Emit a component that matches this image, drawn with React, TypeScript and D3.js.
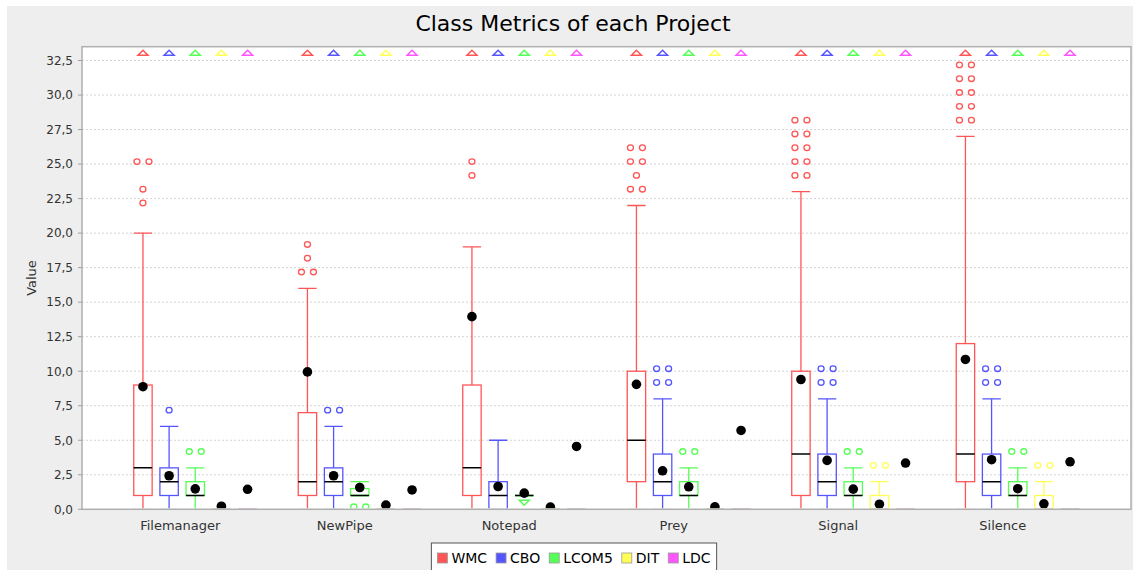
import React from 'react';
import * as d3 from 'd3';

// ---------- data ----------
const categories = ['Filemanager', 'NewPipe', 'Notepad', 'Prey', 'Signal', 'Silence'];
const seriesNames = ['WMC', 'CBO', 'LCOM5', 'DIT', 'LDC'];
const seriesColors = ['#FF5555', '#5555FF', '#55FF55', '#FFFF55', '#FF55FF'];
const yTickValues = [0, 2.5, 5, 7.5, 10, 12.5, 15, 17.5, 20, 22.5, 25, 27.5, 30, 32.5];

type Stat = { lo: number; q1: number; med: number; q3: number; hi: number; mean: number; out: number[]; farHigh: boolean; farLow: boolean };

const wmcStats: Stat[] = [
  { lo: 0, q1: 1, med: 3, q3: 9, hi: 20, mean: 8.88, out: [25, 25, 23, 22], farHigh: true, farLow: false },
  { lo: 0, q1: 1, med: 2, q3: 7, hi: 16, mean: 9.95, out: [19, 18, 17, 17], farHigh: true, farLow: false },
  { lo: 0, q1: 1, med: 3, q3: 9, hi: 19, mean: 13.95, out: [25, 24], farHigh: true, farLow: false },
  { lo: 0, q1: 2, med: 5, q3: 10, hi: 22, mean: 9.05, out: [26, 26, 25, 25, 24, 23, 23], farHigh: true, farLow: false },
  { lo: 0, q1: 1, med: 4, q3: 10, hi: 23, mean: 9.4, out: [28, 28, 27, 27, 26, 26, 25, 25, 24, 24], farHigh: true, farLow: false },
  { lo: 0, q1: 2, med: 4, q3: 12, hi: 27, mean: 10.85, out: [32, 32, 31, 31, 30, 30, 29, 29, 28, 28], farHigh: true, farLow: false },
];
const cboStats: Stat[] = [
  { lo: 0, q1: 1, med: 2, q3: 3, hi: 6, mean: 2.43, out: [7], farHigh: true, farLow: false },
  { lo: 0, q1: 1, med: 2, q3: 3, hi: 6, mean: 2.43, out: [7, 7], farHigh: true, farLow: false },
  { lo: 0, q1: 0, med: 1, q3: 2, hi: 5, mean: 1.65, out: [], farHigh: true, farLow: false },
  { lo: 0, q1: 1, med: 2, q3: 4, hi: 8, mean: 2.79, out: [10, 10, 9, 9], farHigh: true, farLow: false },
  { lo: 0, q1: 1, med: 2, q3: 4, hi: 8, mean: 3.54, out: [10, 10, 9, 9], farHigh: true, farLow: false },
  { lo: 0, q1: 1, med: 2, q3: 4, hi: 8, mean: 3.59, out: [10, 10, 9, 9], farHigh: true, farLow: false },
];
const lcom5Stats: Stat[] = [
  { lo: 0, q1: 1, med: 1, q3: 2, hi: 3, mean: 1.48, out: [4, 4], farHigh: true, farLow: false },
  { lo: 1, q1: 1, med: 1, q3: 1.5, hi: 2, mean: 1.58, out: [0, 0], farHigh: true, farLow: false },
  { lo: 1, q1: 1, med: 1, q3: 1, hi: 1, mean: 1.17, out: [], farHigh: true, farLow: true },
  { lo: 0, q1: 1, med: 1, q3: 2, hi: 3, mean: 1.63, out: [4, 4], farHigh: true, farLow: false },
  { lo: 0, q1: 1, med: 1, q3: 2, hi: 3, mean: 1.46, out: [4, 4], farHigh: true, farLow: false },
  { lo: 0, q1: 1, med: 1, q3: 2, hi: 3, mean: 1.49, out: [4, 4], farHigh: true, farLow: false },
];
const ditStats: Stat[] = [
  { lo: 0, q1: 0, med: 0, q3: 0, hi: 0, mean: 0.22, out: [], farHigh: true, farLow: false },
  { lo: 0, q1: 0, med: 0, q3: 0, hi: 0, mean: 0.3, out: [], farHigh: true, farLow: false },
  { lo: 0, q1: 0, med: 0, q3: 0, hi: 0, mean: 0.16, out: [], farHigh: true, farLow: false },
  { lo: 0, q1: 0, med: 0, q3: 0, hi: 0, mean: 0.18, out: [], farHigh: true, farLow: false },
  { lo: 0, q1: 0, med: 0, q3: 1, hi: 2, mean: 0.37, out: [3, 3], farHigh: true, farLow: false },
  { lo: 0, q1: 0, med: 0, q3: 1, hi: 2, mean: 0.4, out: [3, 3], farHigh: true, farLow: false },
];
const ldcStats: Stat[] = [
  { lo: 0, q1: 0, med: 0, q3: 0, hi: 0, mean: 1.45, out: [], farHigh: true, farLow: false },
  { lo: 0, q1: 0, med: 0, q3: 0, hi: 0, mean: 1.4, out: [], farHigh: true, farLow: false },
  { lo: 0, q1: 0, med: 0, q3: 0, hi: 0, mean: 4.55, out: [], farHigh: true, farLow: false },
  { lo: 0, q1: 0, med: 0, q3: 0, hi: 0, mean: 5.71, out: [], farHigh: true, farLow: false },
  { lo: 0, q1: 0, med: 0, q3: 0, hi: 0, mean: 3.35, out: [], farHigh: true, farLow: false },
  { lo: 0, q1: 0, med: 0, q3: 0, hi: 0, mean: 3.44, out: [], farHigh: true, farLow: false },
];
const allStats = [wmcStats, cboStats, lcom5Stats, ditStats, ldcStats];

// ---------- layout ----------
const W = 1133;
const H = 570;
const FONT = 'DejaVu Sans, sans-serif';
const plot = { left: 82, right: 1131, top: 46.7, bottom: 509.3 };

const measureText = (t: string, font: string) => {
  const ctx = document.createElement('canvas').getContext('2d');
  if (!ctx) return t.length * 8;
  ctx.font = font;
  return ctx.measureText(t).width;
};

export default function App() {
  const y = d3.scaleLinear().domain([0, 33.5]).range([plot.bottom, plot.top]);
  const x = d3.scaleBand<string>().domain(categories).range([plot.left, plot.right]).paddingInner(0.2).paddingOuter(0.2885);
  const xs = d3.scaleBand<string>().domain(seriesNames).range([0, x.bandwidth()]).paddingInner(0.2964).paddingOuter(0.164);
  const bw = xs.bandwidth();
  const fmt = (v: number) => d3.format('.1f')(v).replace('.', ',');

  // legend layout
  const legFont = `14px ${FONT}`;
  const sw = 10, swGap = 4, itemGap = 9, pad = 6;
  const widths = seriesNames.map((s) => measureText(s, legFont));
  const legW = pad * 2 + widths.reduce((a, b) => a + b, 0) + seriesNames.length * (sw + swGap) + (seriesNames.length - 1) * itemGap;
  const legX = 574 - legW / 2;
  let cursor = legX + pad;
  const legItems = seriesNames.map((s, i) => {
    const item = { s, i, x: cursor };
    cursor += sw + swGap + widths[i] + itemGap;
    return item;
  });

  return (
    <svg width={W} height={H} style={{ position: 'absolute', left: 0, top: 0 }} fontFamily={FONT}>
      <defs>
        <clipPath id="plotClip">
          <rect x={plot.left} y={plot.top} width={plot.right - plot.left} height={plot.bottom - plot.top - 1} />
        </clipPath>
      </defs>
      <rect x={0} y={0} width={W} height={H} fill="#ffffff" />
      <rect x={7} y={6} width={W - 7} height={H - 6} fill="#EEEEEE" />
      <text x={573} y={31} textAnchor="middle" fontSize={22} fill="#000">Class Metrics of each Project</text>

      {/* plot background */}
      <rect x={plot.left} y={plot.top} width={plot.right - plot.left} height={plot.bottom - plot.top} fill="#ffffff" />

      {/* grid */}
      {yTickValues.map((v) => (
        <line key={'g' + v} x1={plot.left} x2={plot.right} y1={y(v)} y2={y(v)} stroke="#d4d4d4" strokeWidth={1} strokeDasharray="2,2" />
      ))}

      {/* boxes */}
      <g clipPath="url(#plotClip)">
        {allStats.map((stats, si) =>
          stats.map((d, ci) => {
            const color = seriesColors[si];
            const x0 = (x(categories[ci]) as number) + (xs(seriesNames[si]) as number);
            const cx = x0 + bw / 2;
            const groups = d3.rollups(d.out, (v) => v.length, (v) => v);
            const sw2 = 1.3;
            return (
              <g key={si + '-' + ci}>
                <line x1={cx} x2={cx} y1={y(d.q3)} y2={y(d.hi)} stroke={color} strokeWidth={sw2} />
                <line x1={cx} x2={cx} y1={y(d.q1)} y2={y(d.lo)} stroke={color} strokeWidth={sw2} />
                <line x1={x0} x2={x0 + bw} y1={y(d.hi)} y2={y(d.hi)} stroke={color} strokeWidth={sw2} />
                <line x1={x0} x2={x0 + bw} y1={y(d.lo)} y2={y(d.lo)} stroke={color} strokeWidth={sw2} />
                <rect x={x0} y={y(d.q3)} width={bw} height={y(d.q1) - y(d.q3)} fill="none" stroke={color} strokeWidth={sw2} />
                <line x1={x0} x2={x0 + bw} y1={y(d.med)} y2={y(d.med)} stroke="#000" strokeWidth={1.5} />
                {groups.map(([v, n]) =>
                  n > 1 ? (
                    <g key={'o' + v}>
                      <ellipse cx={cx - 6} cy={y(v) - 2.5} rx={3} ry={2.8} fill="none" stroke={color} strokeWidth={1.3} />
                      <ellipse cx={cx + 6} cy={y(v) - 2.5} rx={3} ry={2.8} fill="none" stroke={color} strokeWidth={1.3} />
                    </g>
                  ) : (
                    <ellipse key={'o' + v} cx={cx} cy={y(v) - 2.5} rx={3} ry={2.8} fill="none" stroke={color} strokeWidth={1.3} />
                  )
                )}
                {d.farHigh && (
                  <polygon points={`${cx},${plot.top + 3.5} ${cx - 5},${plot.top + 8.5} ${cx + 5},${plot.top + 8.5}`} fill="#fff" stroke={color} strokeWidth={1.5} />
                )}
                {d.farLow && (
                  <polygon points={`${cx},${plot.bottom - 4} ${cx - 5},${plot.bottom - 9} ${cx + 5},${plot.bottom - 9}`} fill="#fff" stroke={color} strokeWidth={1.5} />
                )}
                <circle cx={cx} cy={y(d.mean)} r={4.8} fill="#000" />
              </g>
            );
          })
        )}
      </g>

      {/* outline / axes */}
      <rect x={plot.left} y={plot.top} width={plot.right - plot.left} height={plot.bottom - plot.top} fill="none" stroke="#b0b0b0" strokeWidth={1.5} />

      {/* y ticks */}
      {yTickValues.map((v) => (
        <g key={'t' + v}>
          <line x1={plot.left - 4} x2={plot.left} y1={y(v)} y2={y(v)} stroke="#a0a0a0" strokeWidth={1} />
          <text x={plot.left - 9} y={y(v) + 4.3} textAnchor="end" fontSize={12} fill="#333">{fmt(v)}</text>
        </g>
      ))}
      <text transform={`translate(36,${(plot.top + plot.bottom) / 2}) rotate(-90)`} textAnchor="middle" fontSize={13} fill="#333">Value</text>

      {/* category labels */}
      {categories.map((c) => (
        <text key={c} x={(x(c) as number) + x.bandwidth() / 2 - 15} y={530} textAnchor="middle" fontSize={13} fill="#333">{c}</text>
      ))}

      {/* legend */}
      <rect x={legX} y={543} width={legW} height={40} fill="#ffffff" stroke="#555" strokeWidth={1} />
      {legItems.map((it) => (
        <g key={it.s}>
          <rect x={it.x} y={553} width={sw} height={sw} fill={seriesColors[it.i]} stroke="#999" strokeWidth={0.8} />
          <text x={it.x + sw + swGap} y={563} fontSize={14} fill="#000">{it.s}</text>
        </g>
      ))}
    </svg>
  );
}
